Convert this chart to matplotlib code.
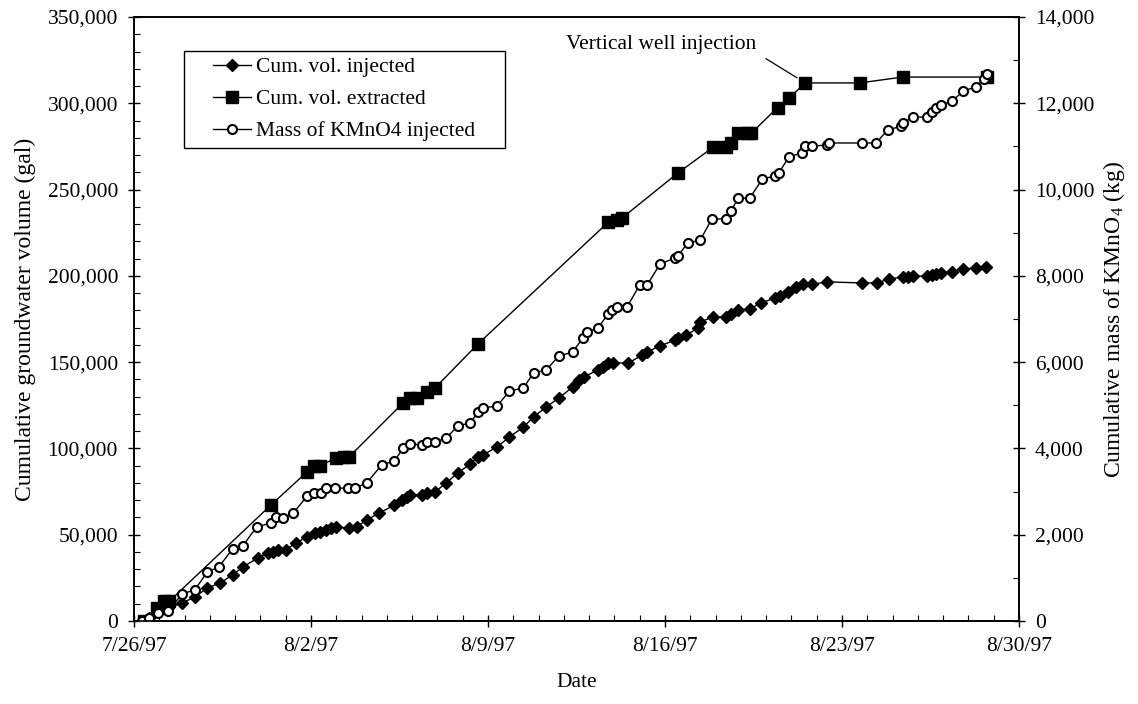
import pandas as pd
import matplotlib
matplotlib.use('Agg')
import matplotlib.pyplot as plt
import matplotlib.dates as mdates
from matplotlib.patches import Rectangle
from matplotlib.ticker import FuncFormatter, MultipleLocator, FixedLocator

# --- dane (dni od 7/26/97) ---
START = pd.Timestamp('1997-07-26')

inj_days = [0.3, 0.6, 1.35, 1.9, 2.4, 2.9, 3.4, 3.9, 4.3, 4.9, 5.3, 5.5, 5.7, 6.0,
            6.4, 6.85, 7.15, 7.35, 7.6, 7.8, 8.0, 8.5, 8.8, 9.2, 9.7, 10.3, 10.6,
            10.8, 10.9, 11.4, 11.6, 11.9, 12.35, 12.8, 13.3, 13.6, 13.8, 14.35,
            14.85, 15.4, 15.8, 16.3, 16.8, 17.35, 17.6, 17.8, 18.35, 18.55, 18.75,
            18.95, 19.55, 20.1, 20.3, 20.8, 21.4, 21.5, 21.85, 22.3, 22.4, 22.9,
            23.4, 23.6, 23.9, 24.35, 24.8, 25.35, 25.55, 25.85, 26.2, 26.45, 26.8,
            27.4, 28.8, 29.4, 29.85, 30.4, 30.6, 30.8, 31.35, 31.55, 31.7, 31.9,
            32.35, 32.8, 33.3, 33.7]
inj_gal = [0, 1700, 7500, 10400, 13900, 19100, 22000, 26700, 31300, 36500, 39400,
           40000, 41100, 41100, 45200, 48700, 51000, 51600, 52700, 53900, 54500,
           53900, 54500, 58500, 62600, 67200, 70100, 71900, 73000, 73000, 74200,
           74800, 80000, 85800, 91000, 95000, 96200, 100800, 106600, 112400,
           118200, 124000, 129200, 135600, 139700, 141500, 145500, 147200, 149500,
           149500, 149500, 154100, 155900, 159400, 162800, 164000, 165700, 169800,
           173300, 176200, 176200, 177900, 180200, 180800, 184300, 187200, 188300,
           190700, 193600, 195300, 195000, 196500, 195900, 195900, 198200, 199300,
           199300, 199900, 199900, 200500, 201100, 201700, 202200, 204000, 204600,
           205100]

ext_days = [0.4, 0.9, 1.2, 1.4, 5.4, 6.85, 7.1, 7.35, 8.0, 8.3, 8.5, 10.65, 10.9,
            11.2, 11.6, 11.9, 13.6, 18.75, 19.1, 19.3, 21.5, 22.9, 23.4, 23.6,
            23.9, 24.3, 24.4, 25.45, 25.9, 26.55, 28.7, 30.4, 33.75]
ext_gal = [0, 7500, 11500, 11500, 67000, 86500, 90000, 90000, 94500, 95000, 95000,
           126500, 129000, 129000, 132500, 135000, 160500, 231000, 232500, 233500,
           259500, 274500, 274500, 277000, 282500, 282500, 282500, 297500, 303000,
           311800, 311800, 315200, 315200]

kmno4_days = [0.3, 0.6, 0.95, 1.35, 1.9, 2.4, 2.9, 3.35, 3.9, 4.3, 4.85, 5.4, 5.6,
              5.9, 6.3, 6.85, 7.1, 7.4, 7.6, 7.95, 8.45, 8.75, 9.2, 9.8, 10.3,
              10.65, 10.9, 11.4, 11.6, 11.9, 12.35, 12.8, 13.3, 13.6, 13.8, 14.35,
              14.85, 15.4, 15.8, 16.3, 16.8, 17.35, 17.75, 17.9, 18.35, 18.75, 18.9,
              19.1, 19.5, 20.0, 20.3, 20.8, 21.4, 21.5, 21.9, 22.4, 22.85, 23.4,
              23.6, 23.9, 24.35, 24.85, 25.35, 25.5, 25.9, 26.4, 26.55, 26.8, 27.4,
              27.5, 28.8, 29.35, 29.8, 30.35, 30.4, 30.8, 31.35, 31.55, 31.7, 31.9,
              32.35, 32.8, 33.3, 33.6, 33.75]
kmno4_kg = [0, 70, 185, 230, 625, 720, 1135, 1250, 1670, 1740, 2180, 2270, 2410,
            2390, 2500, 2900, 2970, 2970, 3080, 3080, 3080, 3080, 3200, 3620, 3710,
            4010, 4100, 4080, 4150, 4150, 4240, 4520, 4590, 4845, 4940, 4980, 5330,
            5400, 5750, 5820, 6140, 6235, 6560, 6700, 6790, 7120, 7210, 7280, 7280,
            7790, 7790, 8275, 8415, 8460, 8760, 8830, 9320, 9320, 9500, 9800, 9800,
            10245, 10315, 10385, 10755, 10850, 11010, 11010, 11030, 11080, 11080,
            11080, 11380, 11470, 11540, 11680, 11680, 11800, 11890, 11960, 12050,
            12285, 12380, 12560, 12680]

week_ticks = [0, 7, 14, 21, 28, 35]


def to_dates(days):
    return START + pd.to_timedelta(days, unit='D')


def fmt_date(v, p):
    d = mdates.num2date(v)
    return f"{d.month}/{d.day}/{d.year % 100:02d}"


plt.rcParams['font.family'] = ['Liberation Serif', 'DejaVu Serif']
plt.rcParams['mathtext.fontset'] = 'custom'
plt.rcParams['mathtext.rm'] = 'Liberation Serif'
plt.rcParams['mathtext.it'] = 'Liberation Serif:italic'
FS = 15.5
FS_LAB = 17

fig = plt.figure(figsize=(11.38, 7.04), dpi=100)
ax = fig.add_axes([134 / 1138, 1 - 621 / 704, 885 / 1138, 604 / 704])
ax2 = ax.twinx()

l1, = ax.plot(to_dates(inj_days), inj_gal, color='black', lw=1.0, marker='D',
              ms=6, mfc='black', mec='black', label='Cum. vol. injected')
l2, = ax.plot(to_dates(ext_days), ext_gal, color='black', lw=1.0, marker='s',
              ms=8.5, mfc='black', mec='black', label='Cum. vol. extracted')
l3, = ax2.plot(to_dates(kmno4_days), kmno4_kg, color='black', lw=1.0, marker='o',
               ms=6.5, mfc='white', mec='black', mew=1.5,
               label='Mass of KMnO4 injected')

ax.set_xlim(START, START + pd.Timedelta(days=35))
ax.set_ylim(0, 350000)
ax2.set_ylim(0, 14000)

ax.xaxis.set_major_locator(FixedLocator(mdates.date2num(to_dates(week_ticks))))
ax.xaxis.set_minor_locator(mdates.DayLocator())
ax.xaxis.set_major_formatter(FuncFormatter(fmt_date))

ax.yaxis.set_major_locator(MultipleLocator(50000))
ax.yaxis.set_minor_locator(MultipleLocator(10000))
ax.yaxis.set_major_formatter(FuncFormatter(lambda v, p: f"{int(v):,}"))
ax2.yaxis.set_major_locator(MultipleLocator(2000))
ax2.yaxis.set_minor_locator(MultipleLocator(1000))
ax2.yaxis.set_major_formatter(FuncFormatter(lambda v, p: f"{int(v):,}"))

ax.tick_params(axis='both', which='major', direction='inout', length=9, width=1,
               labelsize=FS, pad=7)
ax.tick_params(axis='both', which='minor', direction='in', length=4, width=0.8)
ax.tick_params(axis='y', which='both', right=False)
ax2.tick_params(axis='y', which='major', direction='inout', length=9, width=1,
                labelsize=FS, pad=7)
ax2.tick_params(axis='y', which='minor', direction='in', length=4, width=0.8)

for a in (ax, ax2):
    for s in a.spines.values():
        s.set_linewidth(1.2)

ax.set_xlabel('Date', fontsize=FS, labelpad=12)
ax.set_ylabel('Cumulative groundwater volume (gal)', fontsize=FS_LAB, labelpad=8)
ax2.set_ylabel('Cumulative mass of KMnO$_4$ (kg)', fontsize=FS_LAB, labelpad=5)

ax.annotate('Vertical well injection',
            xy=(to_dates([26.55])[0], 311800),
            xytext=(to_dates([24.6])[0], 333800),
            ha='right', va='center', fontsize=FS,
            arrowprops=dict(arrowstyle='-', color='black', lw=0.9,
                            relpos=(1.0, 0.1), shrinkA=6, shrinkB=7))

# legenda bez ramki, ramka rysowana osobno (szerszy margines poziomy)
leg = ax.legend(handles=[l1, l2, l3], loc='upper left',
                bbox_to_anchor=(0.07, 0.962), fontsize=FS, frameon=False,
                handlelength=1.75, handletextpad=0.25, borderpad=0.3,
                labelspacing=0.55)
fig.canvas.draw()
bb = leg.get_window_extent().transformed(fig.transFigure.inverted())
padx = 23 / 1138
fig.patches.append(Rectangle((bb.x0 - padx, bb.y0), bb.width + 2 * padx, bb.height,
                             transform=fig.transFigure, fill=False,
                             edgecolor='black', lw=1.0, zorder=5))

fig.savefig('out.png', dpi=100)
